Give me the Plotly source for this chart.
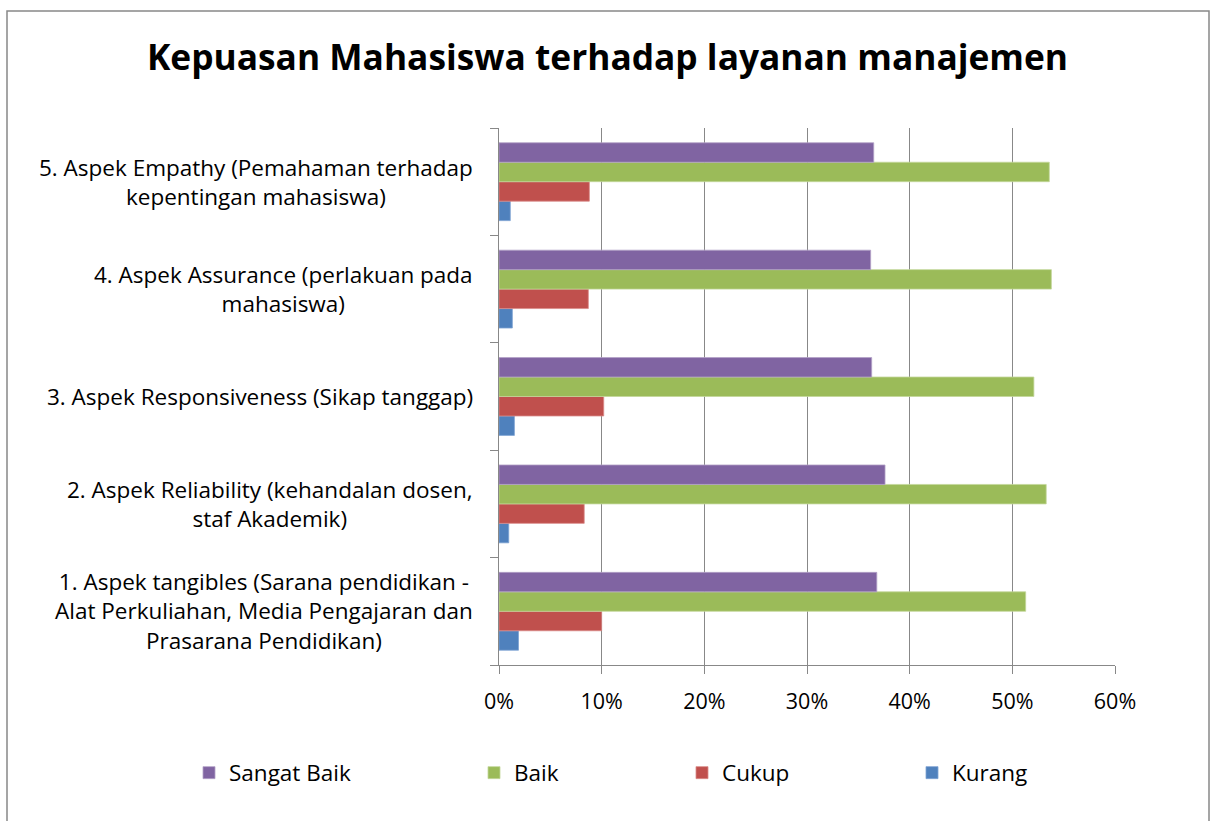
import plotly.graph_objects as go

categories = [
    "1. Aspek tangibles (Sarana pendidikan -<br>Alat Perkuliahan, Media Pengajaran dan<br>Prasarana Pendidikan)",
    "2. Aspek Reliability (kehandalan dosen,<br>staf Akademik)",
    "3. Aspek Responsiveness (Sikap tanggap)",
    "4. Aspek Assurance (perlakuan pada<br>mahasiswa)",
    "5. Aspek Empathy (Pemahaman terhadap<br>kepentingan mahasiswa)",
]
series_names = ["Kurang", "Cukup", "Baik", "Sangat Baik"]
kurang = [1.9, 0.95, 1.5, 1.3, 1.1]
cukup = [10.0, 8.3, 10.2, 8.7, 8.8]
baik = [51.3, 53.3, 52.1, 53.8, 53.6]
sangat_baik = [36.8, 37.6, 36.3, 36.2, 36.5]
x_ticks = [0, 10, 20, 30, 40, 50, 60]
x_tick_labels = ["0%", "10%", "20%", "30%", "40%", "50%", "60%"]
title_text = "Kepuasan Mahasiswa terhadap layanan manajemen"

colors = {"Kurang": "#4F81BD", "Cukup": "#C0504D", "Baik": "#9BBB59", "Sangat Baik": "#8064A2"}
lines = {"Kurang": "#7FA3D3", "Cukup": "#D98A88", "Baik": "#C3D79B", "Sangat Baik": "#B2A1C7"}
values = {"Kurang": kurang, "Cukup": cukup, "Baik": baik, "Sangat Baik": sangat_baik}
legend_ids = {"Sangat Baik": "legend", "Baik": "legend2", "Cukup": "legend3", "Kurang": "legend4"}

FONT = "Open Sans"
W, H = 1215, 821
ML, MR, MT, MB = 499, 100, 128, 156
PW = W - ML - MR
PH = H - MT - MB

def px_to_paper_x(px):
    return (px - ML) / PW

def px_to_paper_y(py):
    return (H - MB - py) / PH

fig = go.Figure()
for name in series_names:
    fig.add_trace(go.Bar(
        y=categories, x=values[name], name=name, orientation="h",
        marker=dict(color=colors[name], line=dict(color=lines[name], width=0.8)),
        legend=legend_ids[name],
    ))

for cat in categories:
    fig.add_annotation(
        x=px_to_paper_x(475), xref="paper", y=cat, yref="y",
        text=cat, showarrow=False, xanchor="right", yanchor="middle",
        align="center", font=dict(family=FONT, size=22.5, color="#000000"),
    )

legend_px = {"legend": 189, "legend2": 474, "legend3": 682, "legend4": 912}
legend_common = dict(orientation="h", yanchor="middle", xanchor="left",
                     font=dict(family=FONT, size=22.5, color="#000000"),
                     bgcolor="rgba(0,0,0,0)")
layout_legends = {}
for lid, pxx in legend_px.items():
    layout_legends[lid] = dict(x=px_to_paper_x(pxx), y=px_to_paper_y(773), **legend_common)

fig.update_layout(
    width=W, height=H,
    margin=dict(l=ML, r=MR, t=MT, b=MB),
    paper_bgcolor="white", plot_bgcolor="white",
    barmode="group", bargap=0.275, bargroupgap=0,
    title=dict(text="<b>" + title_text + "</b>", x=0.5, xref="container", xanchor="center",
               y=1 - 58 / H, yanchor="middle",
               font=dict(family=FONT, size=35.3, color="#000000")),
    showlegend=True,
    **layout_legends,
)
fig.update_xaxes(
    range=[0, 60], tickvals=x_ticks, ticktext=x_tick_labels,
    showgrid=True, gridcolor="#888888", gridwidth=1.4,
    showline=True, linecolor="#888888", linewidth=1.4,
    ticks="outside", ticklen=8, tickcolor="#888888", tickwidth=1.4,
    tickfont=dict(family=FONT, size=21.5, color="#000000"),
    ticklabelstandoff=9,
    zeroline=False, fixedrange=True,
)
fig.update_yaxes(
    showticklabels=False, tickson="boundaries",
    ticks="outside", ticklen=8, tickcolor="#888888", tickwidth=1.4,
    showline=True, linecolor="#888888", linewidth=1.4,
    showgrid=False, fixedrange=True,
)
# outer chart border
fig.add_shape(type="rect", xref="paper", yref="paper",
              x0=px_to_paper_x(7), x1=px_to_paper_x(1209),
              y0=px_to_paper_y(830), y1=px_to_paper_y(11),
              line=dict(color="#888888", width=1.5), fillcolor="rgba(0,0,0,0)", layer="below")

fig.write_html("out.html", config={"displayModeBar": False},
               post_script="document.body.style.margin='0';")
